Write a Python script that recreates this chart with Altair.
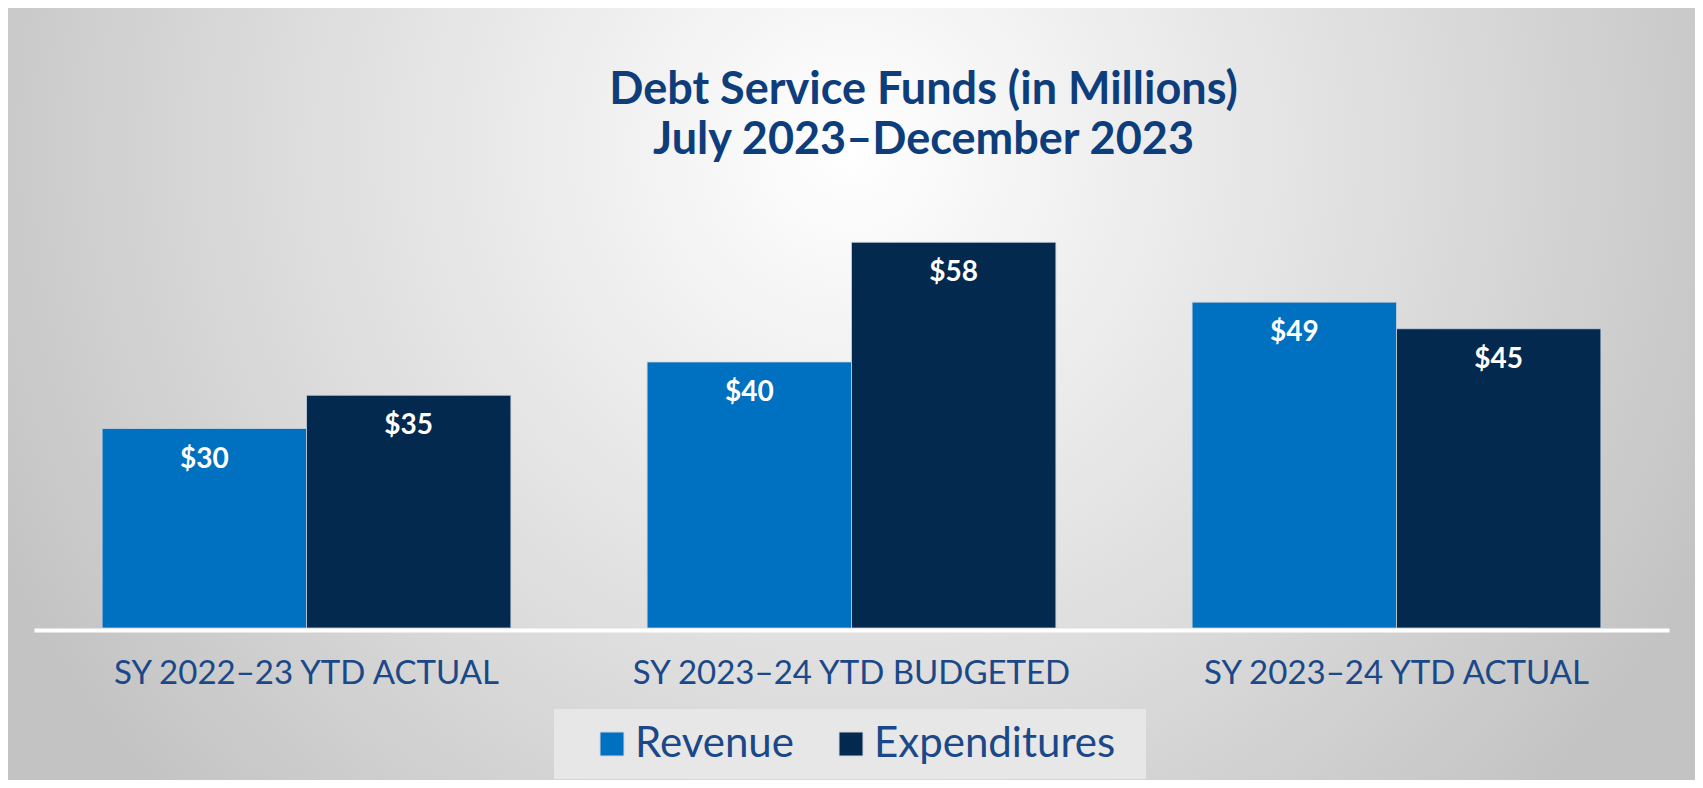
import altair as alt
import pandas as pd

# ---- data ----
categories = ["SY 2022–23 YTD ACTUAL", "SY 2023–24 YTD BUDGETED", "SY 2023–24 YTD ACTUAL"]
series = ["Revenue", "Expenditures"]
revenue = [30, 40, 49]
expenditures = [35, 58, 45]
series_colors = ["#0070C0", "#03294F"]
title_lines = ["Debt Service Funds (in Millions)", "July 2023–December 2023"]

rows = []
for c, r, e in zip(categories, revenue, expenditures):
    rows.append({"category": c, "series": series[0], "value": r})
    rows.append({"category": c, "series": series[1], "value": e})
df = pd.DataFrame(rows)

# ---- layout ----
W, H = 1635, 399
PL, PT, PR, PB = 26, 221, 26, 152

bg_grad = alt.RadialGradient(
    gradient="radial",
    stops=[
        alt.GradientStop(color="#ffffff", offset=0),
        alt.GradientStop(color="#dcdcdc", offset=0.6),
        alt.GradientStop(color="#c3c3c3", offset=1),
    ],
    x1=0.499, y1=0.355, x2=0.499, y2=0.355, r1=0, r2=0.563,
)

background = alt.Chart(pd.DataFrame({"k": [0]})).mark_rect(
    fill=bg_grad, strokeWidth=0
).encode(
    x=alt.value(-PL), x2=alt.value(W + PR), y=alt.value(-PT), y2=alt.value(H + PB)
)

label_color = "#1A4888"

base = alt.Chart(df).transform_calculate(
    label="'$' + datum.value"
).encode(
    x=alt.X(
        "category:N",
        sort=categories,
        scale=alt.Scale(paddingInner=0.25, paddingOuter=0.125),
        axis=alt.Axis(
            title=None, labelAngle=0, labelFont="Lato", labelFontSize=33,
            labelColor=label_color, labelBaseline="alphabetic", labelPadding=53,
            labelLimit=700, labelOverlap=False, ticks=False, tickSize=0,
            domainColor="#ffffff", domainWidth=4, offset=2, grid=False,
            zindex=1,
        ),
    ),
    xOffset=alt.XOffset("series:N", sort=series,
                        scale=alt.Scale(paddingInner=0, paddingOuter=0)),
    y=alt.Y("value:Q", scale=alt.Scale(domain=[0, 60]), axis=None),
)

bars = base.mark_bar(stroke="#c9d2dc", strokeWidth=0.8).encode(
    color=alt.Color(
        "series:N", sort=series,
        scale=alt.Scale(domain=series, range=series_colors),
        legend=alt.Legend(
            orient="none", legendX=520, legendY=480, direction="horizontal",
            title=" ", titleOrient="right", titleFontSize=1, titlePadding=17,
            fillColor="#e7e7e7", padding=14,
            symbolType="square", symbolSize=576, symbolOffset=23,
            symbolStrokeColor="#cfd6de", symbolStrokeWidth=1,
            labelOffset=2, labelFont="Lato", labelFontSize=42,
            labelColor=label_color, labelLimit=400, columnPadding=13,
            zindex=2,
        ),
    )
)

texts = base.mark_text(
    font="Lato", fontSize=28, fontWeight="bold", color="#ffffff",
    baseline="alphabetic", dy=39,
).encode(text="label:N")

chart = alt.layer(background, bars, texts).properties(
    width=W,
    height=H,
    padding={"left": PL, "top": PT, "right": PR, "bottom": PB},
    autosize=alt.AutoSizeParams(type="none"),
    title=alt.TitleParams(
        text=title_lines, font="Lato", fontSize=45, fontWeight="bold",
        color="#0E3D7C", lineHeight=50, anchor="middle", dx=72, offset=-155,
    ),
).configure_view(stroke=None)

chart.save("out.html", embed_options={"renderer": "svg", "actions": False})
